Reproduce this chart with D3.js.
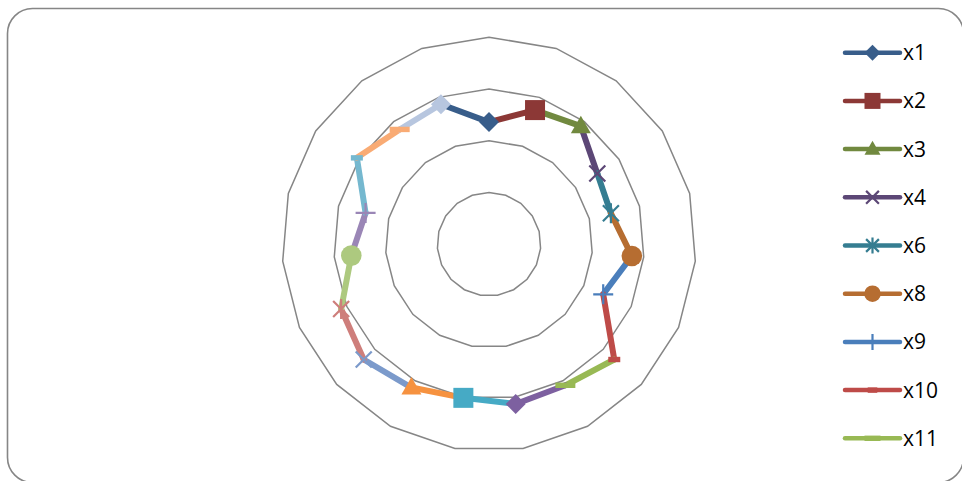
<!DOCTYPE html>
<html>
<head>
<meta charset="utf-8">
<script src="https://cdn.jsdelivr.net/npm/d3@7"></script>
<style>
  html, body { margin: 0; padding: 0; background: #fff; }
  svg { display: block; }
  text { font-family: "Open Sans", "Liberation Sans", sans-serif; }
</style>
</head>
<body>
<svg id="chart" width="962" height="481"></svg>
<script>
// categorías del radar (19 ejes, sin rótulos visibles)
const categories = d3.range(1, 20).map(String);

// valor de cada eje
const values = [2.36, 2.74, 2.89, 2.50, 2.43, 2.77, 2.41, 3.29, 3.10, 3.13,
                3.01, 3.15, 3.29, 3.12, 2.67, 2.46, 3.05, 2.81, 2.86];

// series: cada una une el eje anterior con el suyo
const seriesNames = ["x1", "x2", "x3", "x4", "x6", "x8", "x9", "x10", "x11",
                     "x12", "x13", "x14", "x15", "x16", "x17", "x18", "x19", "x20", "x21"];
const seriesColors = ["#385D8A", "#8C3836", "#71893F", "#5C4776", "#357D91", "#B66D31",
                      "#4A7EBB", "#BE4B48", "#98B954", "#7D60A0", "#46AAC5", "#F69240",
                      "#7B9ACB", "#CE7E7B", "#ADC97F", "#9A86B6", "#75B8CF", "#F9AB74", "#B7C6DF"];
const markerCycle = ["diamond", "square", "triangle", "x", "star", "circle", "plus", "dash", "longdash"];

// escala radial 0..4, anillos en 1..4
const rTicks = [1, 2, 3, 4];
const legendCount = 9;

let svg = d3.select("#chart");

// borde del área del gráfico
svg.append("rect")
  .attr("x", 7.5).attr("y", 8.5)
  .attr("width", 956).attr("height", 474)
  .attr("rx", 25).attr("ry", 25)
  .attr("fill", "#fff")
  .attr("stroke", "#868686")
  .attr("stroke-width", 1.6);

const cx = 489, cy = 244.2;
let r = d3.scaleLinear().domain([0, 4]).range([0, 207]);
let angle = d3.scaleLinear().domain([0, categories.length]).range([0, 2 * Math.PI]);

let plot = svg.append("g").attr("transform", `translate(${cx},${cy})`);

// anillos poligonales
let ring = d3.lineRadial()
  .angle((d, i) => angle(i))
  .radius(d => r(d))
  .curve(d3.curveLinearClosed);

plot.selectAll("path.grid")
  .data(rTicks)
  .enter()
  .append("path")
  .attr("class", "grid")
  .attr("d", t => ring(categories.map(() => t)))
  .attr("fill", "none")
  .attr("stroke", "#868686")
  .attr("stroke-width", 1.5);

function pos(i, v) {
  let a = angle(i);
  return [r(v) * Math.sin(a), -r(v) * Math.cos(a)];
}

// dibuja un marcador centrado en 0,0
function drawMarker(g, type, color, s) {
  let h = s / 2;
  if (type === "diamond") {
    g.append("path").attr("d", `M0,${-h}L${h},0L0,${h}L${-h},0Z`).attr("fill", color);
  } else if (type === "square") {
    g.append("rect").attr("x", -h).attr("y", -h).attr("width", s).attr("height", s).attr("fill", color);
  } else if (type === "triangle") {
    g.append("path").attr("d", `M0,${-h * 1.05}L${h},${h * 0.7}L${-h},${h * 0.7}Z`).attr("fill", color);
  } else if (type === "circle") {
    g.append("circle").attr("r", h * 1.03).attr("fill", color);
  } else if (type === "x" || type === "star") {
    let k = h * 0.8;
    let d = `M${-k},${-k}L${k},${k}M${-k},${k}L${k},${-k}`;
    if (type === "star") d += `M0,${-h}L0,${h}`;
    g.append("path").attr("d", d).attr("stroke", color).attr("stroke-width", 2.2).attr("fill", "none");
  } else if (type === "plus") {
    g.append("path").attr("d", `M${-h},0L${h},0M0,${-h}L0,${h}`)
      .attr("stroke", color).attr("stroke-width", 2.2).attr("fill", "none");
  } else if (type === "dash" || type === "longdash") {
    let w = type === "dash" ? s * 0.6 : s;
    g.append("rect").attr("x", -w / 2).attr("y", -2.7).attr("width", w).attr("height", 5.4).attr("fill", color);
  }
}

// series: primero todas las líneas, luego los marcadores
let n = categories.length;
let segs = seriesNames.map((name, k) => {
  let prev = (k - 1 + n) % n;
  return { name: name, k: k, p0: pos(prev, values[prev]), p1: pos(k, values[k]) };
});

plot.selectAll("path.serie")
  .data(segs)
  .enter()
  .append("path")
  .attr("class", "serie")
  .attr("d", d => d3.line()([d.p0, d.p1]))
  .attr("stroke", d => seriesColors[d.k])
  .attr("stroke-width", 6)
  .attr("stroke-linecap", "round")
  .attr("fill", "none");

segs.forEach(d => {
  let m = plot.append("g").attr("transform", `translate(${d.p1[0]},${d.p1[1]})`);
  drawMarker(m, markerCycle[d.k % markerCycle.length], seriesColors[d.k], 20);
});

// leyenda (Excel solo muestra las primeras entradas)
let legend = svg.append("g").attr("transform", "translate(845,52.7)");
let items = legend.selectAll("g")
  .data(seriesNames.slice(0, legendCount))
  .enter()
  .append("g")
  .attr("transform", (d, i) => `translate(0,${i * 48.2})`);

items.append("line")
  .attr("x1", 0).attr("x2", 55)
  .attr("stroke", (d, i) => seriesColors[i])
  .attr("stroke-width", 4.5)
  .attr("stroke-linecap", "round");

items.each(function(d, i) {
  let m = d3.select(this).append("g").attr("transform", "translate(27.5,0)");
  drawMarker(m, markerCycle[i % markerCycle.length], seriesColors[i], 16);
});

items.append("text")
  .attr("x", 58)
  .attr("y", 0)
  .attr("dy", "0.36em")
  .attr("font-size", 21)
  .attr("fill", "#000")
  .text(d => d);
</script>
</body>
</html>
